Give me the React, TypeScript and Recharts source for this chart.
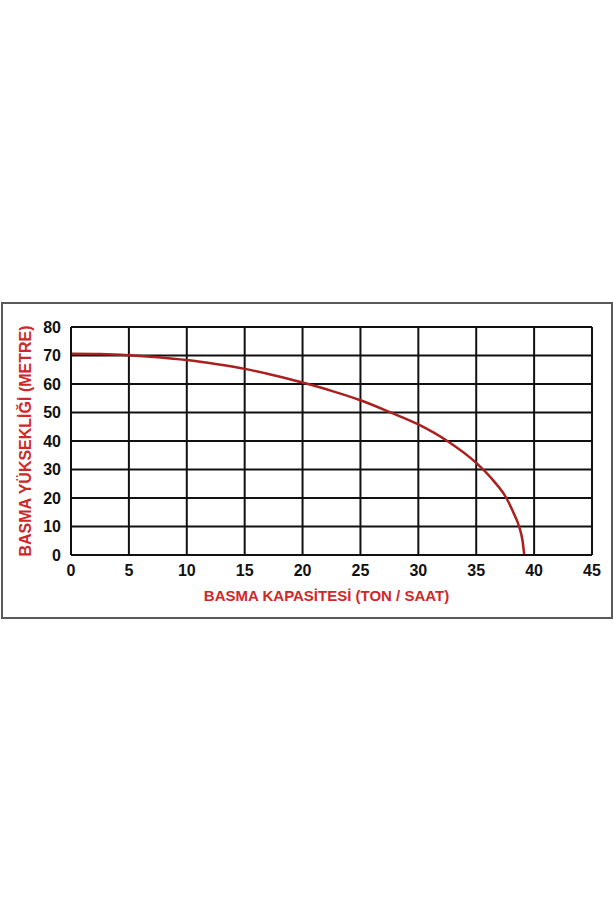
import { LineChart, Line, XAxis, YAxis, CartesianGrid, Label } from "recharts";

const capacity = [0, 2.5, 5, 7.5, 10, 12.5, 15, 17.5, 20, 22.5, 25, 27.5, 30, 32.5, 35, 36.5, 37.6, 38.2, 38.7, 39.0, 39.15];
const head = [70.6, 70.5, 70.1, 69.4, 68.4, 67.0, 65.3, 63.1, 60.5, 57.6, 54.3, 50.2, 45.8, 40.0, 32.3, 26.0, 20.0, 15.0, 10.0, 5.0, 0];
const xTicks = [0, 5, 10, 15, 20, 25, 30, 35, 40, 45];
const yTicks = [0, 10, 20, 30, 40, 50, 60, 70, 80];

const data = capacity.map((x, i) => ({ x, y: head[i] }));

const tickStyle = { fontSize: 16, fontWeight: 700, fill: "#111" };
const titleColor = "#d0282a";

export default function App() {
  return (
    <div
      style={{
        position: "absolute",
        left: 0,
        top: 0,
        width: 613,
        height: 920,
        background: "#fff",
        fontFamily: "'Liberation Sans', Arial, sans-serif",
      }}
    >
      <div
        style={{
          position: "absolute",
          left: 1,
          top: 302,
          width: 608,
          height: 313,
          border: "2px solid #5a5a5a",
          background: "#fff",
        }}
      />
      <div style={{ position: "absolute", left: 0, top: 300 }}>
        <LineChart
          width={613}
          height={320}
          data={data}
          margin={{ top: 27, right: 21, left: 11, bottom: 35 }}
        >
          <CartesianGrid stroke="#111" strokeWidth={2} />
          <XAxis
            type="number"
            dataKey="x"
            domain={[0, 45]}
            ticks={xTicks}
            tick={tickStyle}
            tickLine={false}
            tickMargin={4}
            axisLine={{ stroke: "#111", strokeWidth: 2 }}
            height={30}
          >
            <Label
              value="BASMA KAPASİTESİ (TON / SAAT)"
              position="insideBottom"
              offset={-16}
              dx={-5}
              style={{ fontSize: 15, fontWeight: 700, fill: titleColor }}
            />
          </XAxis>
          <YAxis
            type="number"
            domain={[0, 80]}
            ticks={yTicks}
            tick={tickStyle}
            tickLine={false}
            tickMargin={4}
            axisLine={{ stroke: "#111", strokeWidth: 2 }}
            width={60}
          >
            <Label
              value="BASMA YÜKSEKLİĞİ (METRE)"
              angle={-90}
              position="insideLeft"
              offset={14}
              style={{ fontSize: 16, fontWeight: 700, fill: titleColor, textAnchor: "middle" }}
            />
          </YAxis>
          <Line
            type="monotone"
            dataKey="y"
            stroke="#a8201f"
            strokeWidth={2.5}
            dot={false}
            isAnimationActive={false}
          />
        </LineChart>
      </div>
    </div>
  );
}
